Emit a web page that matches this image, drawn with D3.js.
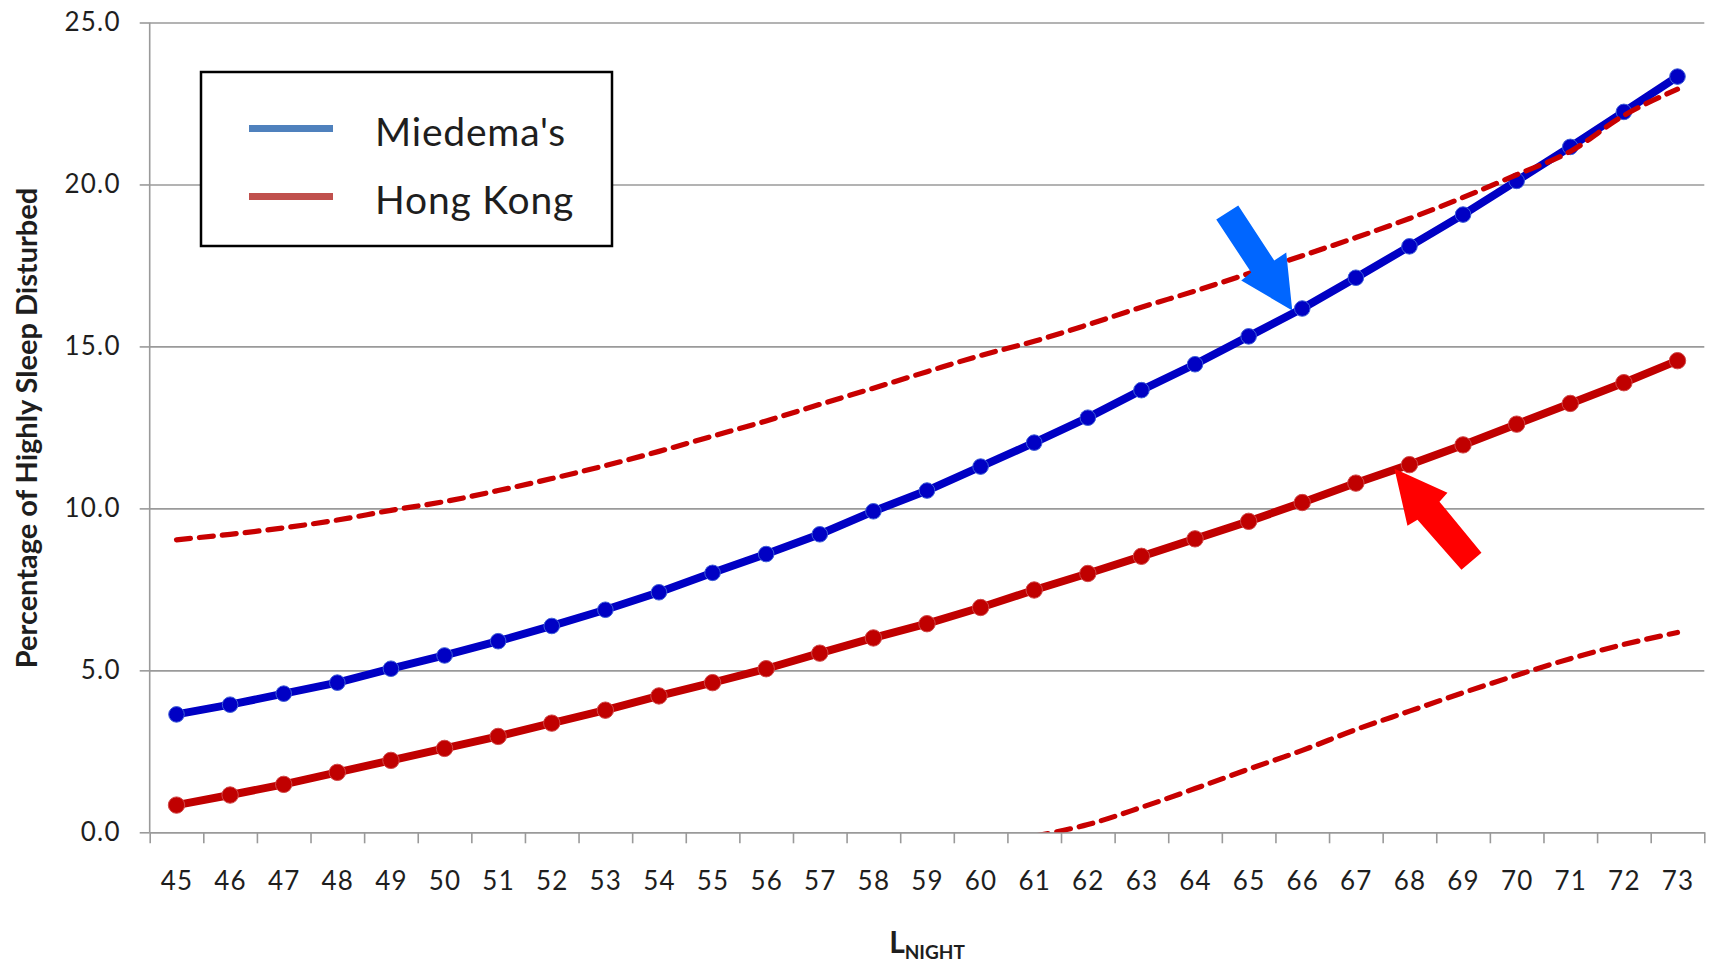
<!DOCTYPE html>
<html>
<head>
<meta charset="utf-8">
<script src="https://cdn.jsdelivr.net/npm/d3@7"></script>
<style>
  html, body { margin: 0; padding: 0; background: #ffffff; }
  svg { display: block; }
  text { font-family: Lato, "Open Sans", "Liberation Sans", sans-serif; fill: #1e1e1e; }
</style>
</head>
<body>
<svg id="chart" width="1713" height="963"></svg>
<script>
// Night-time noise level (dB) on the category axis
const categories = [45, 46, 47, 48, 49, 50, 51, 52, 53, 54, 55, 56, 57, 58, 59,
                    60, 61, 62, 63, 64, 65, 66, 67, 68, 69, 70, 71, 72, 73];

// Percentage highly sleep disturbed
const miedema = [3.64, 3.94, 4.28, 4.62, 5.05, 5.46, 5.90, 6.37, 6.87, 7.41, 8.01, 8.59, 9.20, 9.91, 10.55,
                 11.29, 12.03, 12.80, 13.65, 14.45, 15.31, 16.17, 17.12, 18.09, 19.07, 20.11, 21.16, 22.24, 23.33];
const hongKong = [0.84, 1.15, 1.48, 1.85, 2.22, 2.59, 2.96, 3.37, 3.77, 4.21, 4.62, 5.05, 5.53, 6.00, 6.44,
                  6.94, 7.48, 7.99, 8.52, 9.06, 9.60, 10.18, 10.78, 11.35, 11.96, 12.60, 13.24, 13.88, 14.56];
// Upper and lower confidence bounds of the Hong Kong curve (lower bound only shown where it reaches the axis)
const hkUpper = [9.03, 9.20, 9.40, 9.64, 9.94, 10.21, 10.55, 10.92, 11.32, 11.76, 12.23, 12.70, 13.21, 13.71, 14.22,
                 14.72, 15.16, 15.67, 16.21, 16.71, 17.25, 17.80, 18.36, 18.95, 19.60, 20.30, 21.02, 22.13, 22.94];
const hkLower = [null, null, null, null, null, null, null, null, null, null, null, null, null, null, null,
                 null, -0.12, 0.24, 0.77, 1.35, 1.95, 2.53, 3.17, 3.74, 4.31, 4.85, 5.36, 5.80, 6.17];

const yTicks = [0, 5, 10, 15, 20, 25];
const legendItems = ["Miedema's", "Hong Kong"];

// Highlighted points: [category, value, series]
const highlights = [[66, 16.17, "miedema"], [68, 11.35, "hongKong"]];

const svg = d3.select("#chart");
const plot = { left: 149.7, right: 1704.3, top: 22.5, bottom: 832.3 };

const x = d3.scaleLinear()
  .domain([categories[0] - 0.5, categories[categories.length - 1] + 0.5])
  .range([plot.left, plot.right]);
const y = d3.scaleLinear().domain([0, 25]).range([plot.bottom, plot.top]);

const gridColor = "#9a9a9a";
const tickFont = { size: 26, spacing: 1.2, color: "#222222" };

// Horizontal gridlines with short outward ticks on the value axis
const yAxis = svg.append("g")
  .attr("transform", `translate(${plot.left},0)`)
  .call(d3.axisLeft(y).tickValues(yTicks).tickSize(10).tickFormat(d3.format(".1f")));
yAxis.select(".domain").remove();
yAxis.selectAll(".tick line").attr("stroke", gridColor).attr("stroke-width", 1.6);
yAxis.selectAll(".tick text")
  .attr("x", -29)
  .attr("font-size", tickFont.size)
  .attr("letter-spacing", tickFont.spacing)
  .attr("font-family", "Lato, sans-serif")
  .attr("fill", tickFont.color);

const grid = svg.append("g")
  .attr("transform", `translate(${plot.left},0)`)
  .call(d3.axisLeft(y).tickValues(yTicks).tickSize(-(plot.right - plot.left)).tickFormat(""));
grid.select(".domain").remove();
grid.selectAll(".tick line").attr("stroke", gridColor).attr("stroke-width", 1.6);

// Value axis line
svg.append("line")
  .attr("x1", plot.left).attr("x2", plot.left)
  .attr("y1", plot.top).attr("y2", plot.bottom)
  .attr("stroke", gridColor).attr("stroke-width", 1.6);

// Category axis: tick marks between categories, labels centred on categories
const boundaries = d3.range(categories.length + 1).map(i => categories[0] - 0.5 + i);
const xTicks = svg.append("g")
  .attr("transform", `translate(0,${plot.bottom})`)
  .call(d3.axisBottom(x).tickValues(boundaries).tickSize(11).tickFormat("").tickSizeOuter(0));
xTicks.select(".domain").attr("stroke", gridColor).attr("stroke-width", 1.6);
xTicks.selectAll(".tick line").attr("stroke", gridColor).attr("stroke-width", 1.6);

const xLabels = svg.append("g")
  .attr("transform", `translate(0,${plot.bottom})`)
  .call(d3.axisBottom(x).tickValues(categories).tickSize(0).tickFormat(d => d));
xLabels.select(".domain").remove();
xLabels.selectAll(".tick text")
  .attr("y", 45)
  .attr("dy", "0.5em")
  .attr("font-size", tickFont.size)
  .attr("letter-spacing", tickFont.spacing)
  .attr("font-family", "Lato, sans-serif")
  .attr("fill", tickFont.color);

// Axis titles
svg.append("text")
  .attr("transform", `translate(25,428) rotate(-90)`)
  .attr("text-anchor", "middle")
  .attr("dominant-baseline", "central")
  .attr("font-size", 29)
  .attr("font-weight", "bold")
  .text("Percentage of Highly Sleep Disturbed");

const xTitle = svg.append("text")
  .attr("x", 927).attr("y", 953)
  .attr("text-anchor", "middle")
  .attr("font-weight", "bold");
xTitle.append("tspan").attr("font-size", 30).text("L");
xTitle.append("tspan").attr("font-size", 19).attr("dy", 6).text("NIGHT");

// Clip region for the plotted series
svg.append("clipPath").attr("id", "plot-clip")
  .append("rect")
  .attr("x", plot.left).attr("y", plot.top - 12)
  .attr("width", plot.right - plot.left + 12)
  .attr("height", plot.bottom - plot.top + 12);

const layer = svg.append("g").attr("clip-path", "url(#plot-clip)");

const pts = vals => categories.map((c, i) => ({ c, v: vals[i] }));
const lineStraight = d3.line().defined(d => d.v !== null).x(d => x(d.c)).y(d => y(d.v));
const lineSmooth = d3.line().defined(d => d.v !== null).x(d => x(d.c)).y(d => y(d.v)).curve(d3.curveMonotoneX);

const series = [
  { vals: miedema, color: "#0000c4", edge: "#3f5fd8", r: 7.8 },
  { vals: hongKong, color: "#c00000", edge: "#d04848", r: 8.2 }
];

series.forEach(s => {
  layer.append("path")
    .datum(pts(s.vals))
    .attr("fill", "none")
    .attr("stroke", s.color)
    .attr("stroke-width", 8)
    .attr("stroke-linejoin", "round")
    .attr("d", lineStraight);
  layer.selectAll(null)
    .data(pts(s.vals))
    .join("circle")
    .attr("cx", d => x(d.c))
    .attr("cy", d => y(d.v))
    .attr("r", s.r)
    .attr("fill", s.color)
    .attr("stroke", s.edge)
    .attr("stroke-width", 1);
});

// Confidence bounds as dashed curves
[hkUpper, hkLower].forEach(vals => {
  layer.append("path")
    .datum(pts(vals))
    .attr("fill", "none")
    .attr("stroke", "#c80000")
    .attr("stroke-width", 5.2)
    .attr("stroke-dasharray", "14 9")
    .attr("stroke-linecap", "round")
    .attr("d", lineSmooth);
});

// Block arrows pointing at the highlighted points
const arrowShapes = {
  miedema: { color: "#0066ff", shape: [[-10, 2], [-61, -28], [-51, -36], [-86, -89], [-64, -103], [-28, -48], [-16, -56]] },
  hongKong: { color: "#ff0000", shape: [[-15, 4], [38, 28], [30, 37], [72, 88], [52, 105], [8, 55], [-2, 61]] }
};
highlights.forEach(([c, v, key]) => {
  const a = arrowShapes[key];
  const px = x(c), py = y(v);
  svg.append("path")
    .attr("d", "M" + a.shape.map(([dx, dy]) => `${px + dx},${py + dy}`).join("L") + "Z")
    .attr("fill", a.color);
});

// Legend
const legend = svg.append("g");
legend.append("rect")
  .attr("x", 201).attr("y", 72)
  .attr("width", 411).attr("height", 174)
  .attr("fill", "#ffffff")
  .attr("stroke", "#000000")
  .attr("stroke-width", 2.5);
const legendColors = ["#4f81bd", "#c0504d"];
legendItems.forEach((name, i) => {
  const yy = 128.5 + i * 68;
  legend.append("line")
    .attr("x1", 249).attr("x2", 333)
    .attr("y1", yy).attr("y2", yy)
    .attr("stroke", legendColors[i])
    .attr("stroke-width", 7);
  legend.append("text")
    .attr("x", 375).attr("y", yy + 17)
    .attr("font-size", 39)
    .attr("letter-spacing", 0.8)
    .text(name);
});
</script>
</body>
</html>
